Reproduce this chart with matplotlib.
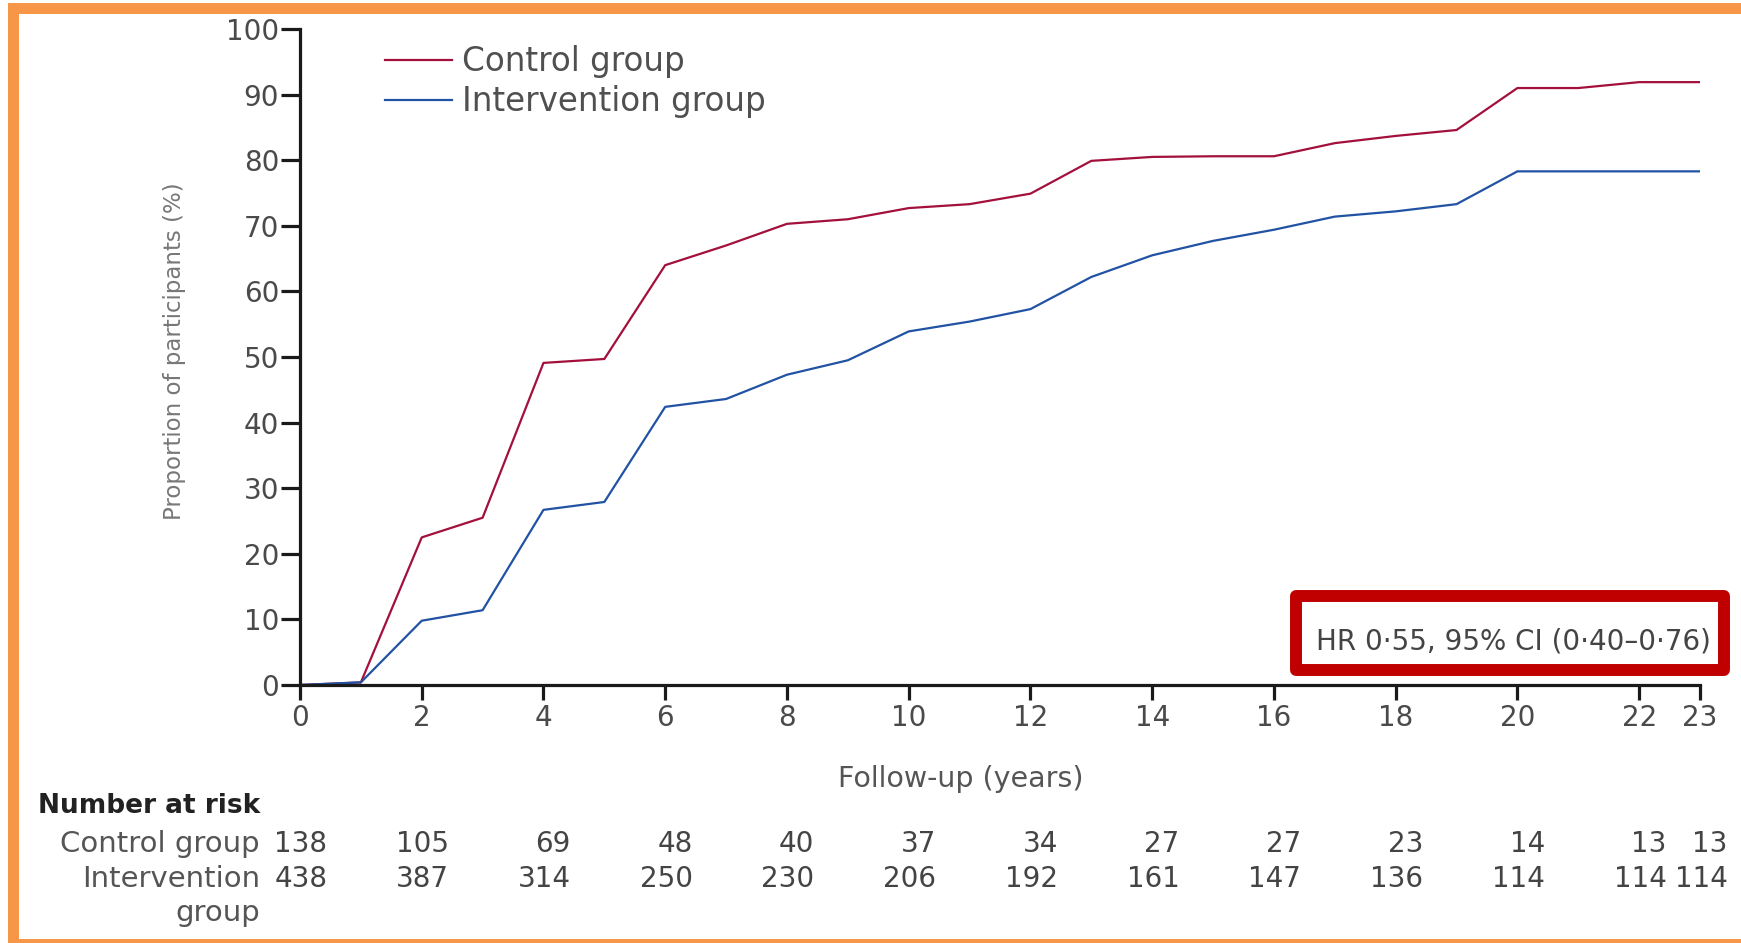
import matplotlib
matplotlib.use("Agg")
import matplotlib.pyplot as plt
from matplotlib.patches import Rectangle

# cumulative proportion of participants (%) by follow-up year
years = list(range(0, 24))
control = [0, 0.4, 22.5, 25.5, 49.1, 49.7, 64.0, 67.0, 70.3, 71.0, 72.7, 73.3,
           74.9, 79.9, 80.5, 80.6, 80.6, 82.6, 83.7, 84.6, 91.0, 91.0, 91.9, 91.9]
intervention = [0, 0.4, 9.8, 11.4, 26.7, 27.9, 42.4, 43.6, 47.3, 49.5, 53.9, 55.4,
                57.3, 62.2, 65.5, 67.7, 69.4, 71.4, 72.2, 73.3, 78.3, 78.3, 78.3, 78.3]

# number at risk table
risk_years = [0, 2, 4, 6, 8, 10, 12, 14, 16, 18, 20, 22, 23]
risk_control = [138, 105, 69, 48, 40, 37, 34, 27, 27, 23, 14, 13, 13]
risk_intervention = [438, 387, 314, 250, 230, 206, 192, 161, 147, 136, 114, 114, 114]

x_ticks = [0, 2, 4, 6, 8, 10, 12, 14, 16, 18, 20, 22, 23]
y_ticks = list(range(0, 101, 10))

hr_text = "HR 0·55, 95% CI (0·40–0·76)"

RED = "#A3103C"
BLUE = "#2152A3"
plt.rcParams["font.family"] = ["DejaVu Sans"]

fig = plt.figure(figsize=(17.41, 9.43), dpi=100)
ax = fig.add_axes([300 / 1741, 258 / 943, 1400 / 1741, 656 / 943])

ax.plot(years, control, color=RED, lw=1.6, label="Control group", solid_joinstyle="round")
ax.plot(years, intervention, color=BLUE, lw=1.6, label="Intervention group", solid_joinstyle="round")

ax.set_xlim(0, 23)
ax.set_ylim(0, 100)
ax.set_xticks(x_ticks)
ax.set_yticks(y_ticks)
for side in ["top", "right"]:
    ax.spines[side].set_visible(False)
for side in ["left", "bottom"]:
    ax.spines[side].set_linewidth(2.3)
    ax.spines[side].set_color("#1a1a1a")
ax.tick_params(axis="y", length=14, width=2.3, pad=1, labelsize=20, labelcolor="#4a4a4a", color="#1a1a1a")
ax.tick_params(axis="x", length=11, width=2.3, pad=3, labelsize=20, labelcolor="#4a4a4a", color="#1a1a1a")

ax.set_xlabel("Follow-up (years)", fontsize=20.5, color="#555555")
ax.xaxis.set_label_coords(0.472, -0.143)
ax.xaxis.label.set_va("center")
ax.set_ylabel("Proportion of participants (%)", fontsize=16.5, color="#777777")
ax.yaxis.set_label_coords(-0.09, 0.509)
ax.yaxis.label.set_va("center")

ax.legend(loc="upper left", bbox_to_anchor=(0.0607, 0.975), frameon=False,
          fontsize=23.5, handlelength=2.05, handletextpad=0.3, labelspacing=0.2,
          borderpad=0, borderaxespad=0, labelcolor="#505050")

# hazard ratio box
ax.add_patch(Rectangle((0.7114, 0.0229), 1.0171 - 0.7114, 0.1357 - 0.0229,
                       transform=ax.transAxes, fill=False, edgecolor="#C00000",
                       lw=8.6, joinstyle="round", clip_on=False, zorder=5))
ax.text(0.7257, 0.066, hr_text, transform=ax.transAxes, ha="left", va="center",
        fontsize=20, color="#444444", zorder=4)

# number at risk
trans = ax.get_xaxis_transform()
ax.text(-0.0286, -0.1845, "Number at risk", transform=ax.transAxes, ha="right", va="center",
        fontsize=19, fontweight="bold", color="#222222")
ax.text(-0.0286, -0.2424, "Control group", transform=ax.transAxes, ha="right", va="center",
        fontsize=21, color="#555555")
ax.text(-0.0286, -0.2957, "Intervention", transform=ax.transAxes, ha="right", va="center",
        fontsize=21, color="#555555")
ax.text(-0.0286, -0.3476, "group", transform=ax.transAxes, ha="right", va="center",
        fontsize=21, color="#555555")
for yr, c, i in zip(risk_years, risk_control, risk_intervention):
    ax.text(yr + 0.45, -0.2424, str(c), transform=trans, ha="right", va="center",
            fontsize=20, color="#444444")
    ax.text(yr + 0.45, -0.2957, str(i), transform=trans, ha="right", va="center",
            fontsize=20, color="#444444")

# orange frame around the panel (open on the right)
fig.add_artist(Rectangle((12.5 / 1741, -0.5 / 943), 1.02, 935.5 / 943,
                         transform=fig.transFigure, fill=False, edgecolor="#F79646",
                         lw=7.9, joinstyle="miter", clip_on=False))

fig.savefig("out.png", dpi=100)
